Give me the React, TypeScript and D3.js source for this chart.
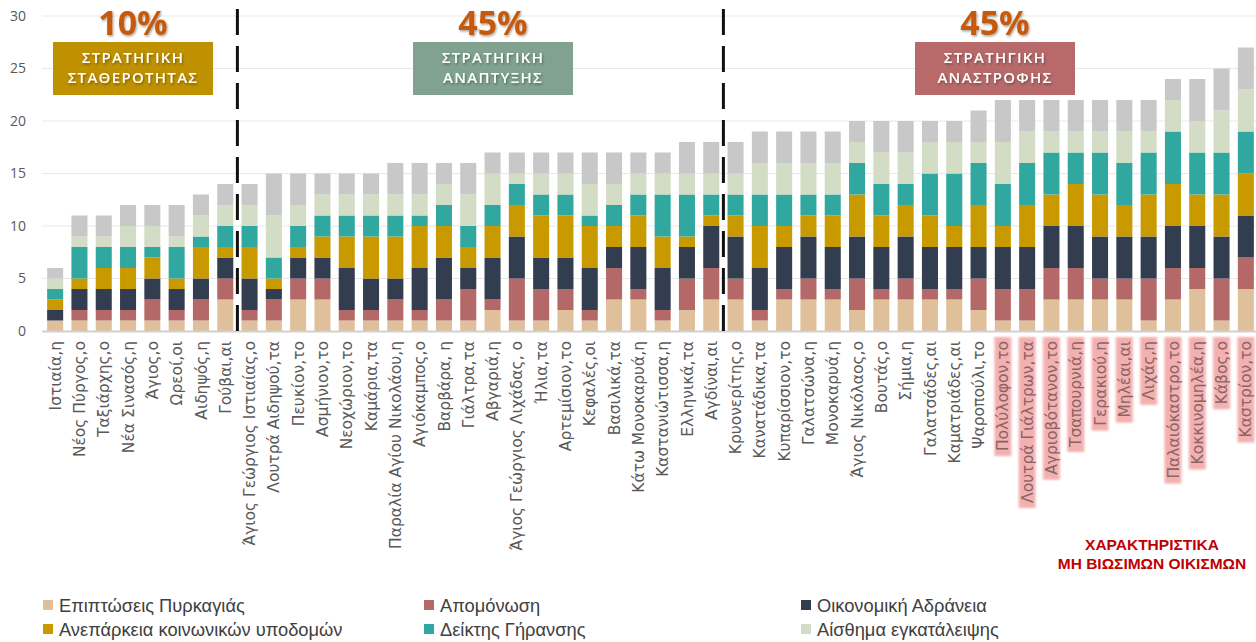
import * as d3 from "d3";
import { useEffect, useRef } from "react";

// οικισμοί (άξονας x)
const villages = [
  "Ιστιαία,η", "Νέος Πύργος,ο", "Ταξιάρχης,ο", "Νέα Σινασός,η", "Άγιος,ο",
  "Ωρεοί,οι", "Αιδηψός,η", "Γούβαι,αι", "Άγιος Γεώργιος Ιστιαίας,ο", "Λουτρά Αιδηψού,τα",
  "Πευκίον,το", "Ασμήνιον,το", "Νεοχώριον,το", "Καμάρια,τα", "Παραλία Αγίου Νικολάου,η",
  "Αγιόκαμπος,ο", "Βαρβάρα, η", "Γιάλτρα,τα", "Αβγαριά,η", "Άγιος Γεώργιος Λιχάδας, ο",
  "Ήλια,τα", "Αρτεμίσιον,το", "Κεφαλές,οι", "Βασιλικά,τα", "Κάτω Μονοκαρυά,η",
  "Καστανιώτισσα,η", "Ελληνικά,τα", "Αγδίναι,αι", "Κρυονερίτης,ο", "Κανατάδικα,τα",
  "Κυπαρίσσιον,το", "Γαλατσώνα,η", "Μονοκαρυά,η", "Άγιος Νικόλαος,ο", "Βουτάς,ο",
  "Σήμια,η", "Γαλατσάδες,αι", "Καματριάδες,αι", "Ψαροπούλι,το", "Πολύλοφον,το",
  "Λουτρά Γιάλτρων,τα", "Αγριοβότανον,το", "Τσαπουρνιά,η", "Γερακιού,η", "Μηλέαι,αι",
  "Λιχάς,η", "Παλαιόκαστρο,το", "Κοκκινομηλέα,η", "Κάβος,ο", "Καστρίον,το",
];

const fire = [1,1,1,1,1,1,1,3,1,1,3,3,1,1,1,1,1,1,2,1,1,2,1,3,3,1,2,3,3,1,3,3,3,2,3,3,3,3,2,1,1,3,3,3,3,1,3,4,1,4];
const isolation = [0,1,1,1,2,1,2,2,1,2,2,2,1,1,2,1,2,3,1,4,3,2,1,3,1,1,3,3,2,1,1,2,1,3,1,2,1,1,3,3,3,3,3,2,2,4,3,2,4,3];
const economy = [1,2,2,2,2,2,2,2,3,1,2,2,4,3,2,4,4,2,4,4,3,3,4,2,4,4,3,4,4,4,4,4,4,4,4,4,4,4,3,4,4,4,4,4,4,4,4,4,4,4];
const infra = [1,1,2,2,2,1,3,1,3,1,1,2,3,4,4,4,3,2,3,3,4,4,4,2,3,3,1,1,2,4,2,2,3,4,3,3,3,2,4,2,4,3,4,4,3,4,4,3,4,4];
const ageing = [1,3,2,2,1,3,1,2,2,2,2,2,2,2,2,1,2,2,2,2,2,2,1,2,2,4,4,2,2,3,3,2,2,3,3,2,4,5,4,4,4,4,3,4,4,4,5,4,4,4];
const abandon = [1,1,1,2,2,1,2,2,2,4,2,2,2,2,2,2,2,3,3,1,2,2,3,2,2,2,2,2,2,3,3,3,3,2,3,3,3,3,2,4,3,2,2,2,3,2,3,3,4,4];
const other = [1,2,2,2,2,3,2,2,2,4,3,2,2,2,3,3,2,3,2,2,2,2,3,3,2,2,3,3,3,3,3,3,3,2,3,3,2,2,3,4,3,3,3,3,3,3,2,4,4,4];

const seriesNames = [
  "Επιπτώσεις Πυρκαγιάς", "Απομόνωση", "Οικονομική Αδράνεια",
  "Ανεπάρκεια κοινωνικών υποδομών", "Δείκτης Γήρανσης", "Αίσθημα εγκατάλειψης", "Λοιπά",
];
const seriesColors = ["#e0c09a", "#b56868", "#333d50", "#c99a00", "#31a89f", "#d3dcc4", "#c8c8c8"];
const yTicks = [0, 5, 10, 15, 20, 25, 30];

// ομάδες στρατηγικής: ποσοστό, τίτλος, χρώμα, κέντρο πλαισίου
const groupPct = ["10%", "45%", "45%"];
const groupTitle = [["ΣΤΡΑΤΗΓΙΚΗ", "ΣΤΑΘΕΡΟΤΗΤΑΣ"], ["ΣΤΡΑΤΗΓΙΚΗ", "ΑΝΑΠΤΥΞΗΣ"], ["ΣΤΡΑΤΗΓΙΚΗ", "ΑΝΑΣΤΡΟΦΗΣ"]];
const groupColor = ["#bf9000", "#80a28e", "#b86a6a"];
const groupCenter = [133, 493, 995];
const groupBreaks = [8, 28]; // μετά από ποιο δείκτη πάει η διακεκομμένη
const firstNonViable = 39;

export default function App() {
  const ref = useRef<SVGSVGElement>(null);

  useEffect(() => {
    document.body.style.margin = "0";
    const W = 1256;
    const H = 642;
    const svg = d3.select(ref.current).attr("width", W).attr("height", H);
    svg.selectAll("*").remove();

    const defs = svg.append("defs");
    defs.append("filter").attr("id", "shadow")
      .append("feDropShadow").attr("dx", 1).attr("dy", 1.5).attr("stdDeviation", 1)
      .attr("flood-color", "#000").attr("flood-opacity", 0.35);
    defs.append("filter").attr("id", "soft").attr("x", "-30%").attr("y", "-10%").attr("width", "160%").attr("height", "120%")
      .append("feGaussianBlur").attr("stdDeviation", 1.2);

    const x = d3.scaleBand<string>().domain(villages).range([43, 1258]).paddingInner(0.34).paddingOuter(0.17);
    const y = d3.scaleLinear().domain([0, 30]).range([331, 16]);

    const font = "'Open Sans', sans-serif";
    const labelFont = "'DejaVu Sans', sans-serif";
    const legendFont = "'Liberation Sans', Arial, sans-serif";

    // πλέγμα
    svg.append("g").selectAll("line").data(yTicks.slice(1)).join("line")
      .attr("x1", 42).attr("x2", 1256).attr("y1", (d) => y(d)).attr("y2", (d) => y(d))
      .attr("stroke", "#e8e8e8").attr("stroke-width", 1);

    svg.append("g").selectAll("text").data(yTicks).join("text")
      .attr("x", 26).attr("y", (d) => y(d)).attr("dy", "0.35em")
      .attr("text-anchor", "end").attr("font-family", font).attr("font-size", 14)
      .attr("fill", "#595959").text((d) => d);

    const rows = villages.map((v, i) => ({
      name: v, s0: fire[i], s1: isolation[i], s2: economy[i], s3: infra[i],
      s4: ageing[i], s5: abandon[i], s6: other[i],
    }));
    const keys = ["s0", "s1", "s2", "s3", "s4", "s5", "s6"];
    const stack = d3.stack<any>().keys(keys)(rows);

    svg.append("g").selectAll("g").data(stack).join("g")
      .attr("fill", (_, i) => seriesColors[i])
      .selectAll("rect").data((d) => d).join("rect")
      .attr("x", (d) => x(d.data.name)!)
      .attr("width", x.bandwidth())
      .attr("y", (d) => y(d[1]))
      .attr("height", (d) => y(d[0]) - y(d[1]));

    svg.append("line").attr("x1", 42).attr("x2", 1256).attr("y1", y(0) + 0.5).attr("y2", y(0) + 0.5)
      .attr("stroke", "#d0d0d0").attr("stroke-width", 2);

    // ετικέτες οικισμών
    const lab = svg.append("g");
    villages.forEach((v, i) => {
      const cx = x(v)! + x.bandwidth() / 2;
      const hl = i >= firstNonViable;
      const g = lab.append("g").attr("transform", `translate(${cx},341) rotate(-90)`);
      const bg = hl ? g.append("rect") : null;
      const t = g.append("text").attr("text-anchor", "end").attr("dy", "0.36em")
        .attr("font-family", labelFont).attr("font-size", 15.5)
        .attr("fill", hl ? "#8a6464" : "#595959").text(v);
      if (bg) {
        const len = (t.node() as SVGTextElement).getComputedTextLength();
        bg.attr("x", -len - 5).attr("y", -8.5).attr("width", len + 9).attr("height", 17)
          .attr("fill", "#f2a3a3").attr("opacity", 0.85).attr("filter", "url(#soft)");
      }
    });

    // διακεκομμένες γραμμές
    groupBreaks.forEach((b) => {
      const xl = (x(villages[b - 1])! + x.bandwidth() + x(villages[b])!) / 2;
      svg.append("line").attr("x1", xl).attr("x2", xl).attr("y1", 9).attr("y2", y(0))
        .attr("stroke", "#111").attr("stroke-width", 3).attr("stroke-dasharray", "26 11");
    });

    // πλαίσια στρατηγικών
    groupPct.forEach((p, i) => {
      const cx = groupCenter[i];
      svg.append("text").attr("x", cx).attr("y", 35).attr("text-anchor", "middle")
        .attr("font-family", font).attr("font-weight", 700).attr("font-size", 34)
        .attr("fill", "#c55a11").attr("filter", "url(#shadow)").text(p);
      svg.append("rect").attr("x", cx - 80).attr("y", 42).attr("width", 160).attr("height", 53)
        .attr("fill", groupColor[i]);
      groupTitle[i].forEach((line, j) => {
        svg.append("text").attr("x", cx).attr("y", 58 + j * 20).attr("dy", "0.36em")
          .attr("text-anchor", "middle").attr("font-family", font).attr("font-weight", 600)
          .attr("font-size", 15).attr("letter-spacing", 1.3).attr("fill", "#fff")
          .attr("filter", "url(#shadow)").text(line);
      });
    });

    // σημείωση μη βιώσιμων
    ["ΧΑΡΑΚΤΗΡΙΣΤΙΚΑ", "ΜΗ ΒΙΩΣΙΜΩΝ ΟΙΚΙΣΜΩΝ"].forEach((line, j) => {
      svg.append("text").attr("x", 1152).attr("y", 544 + j * 19).attr("dy", "0.36em")
        .attr("text-anchor", "middle").attr("font-family", legendFont)
        .attr("font-weight", 700).attr("font-size", 15.5).attr("fill", "#c00000").text(line);
    });

    // υπόμνημα
    const legX = [43, 424, 801];
    const leg = svg.append("g");
    seriesNames.slice(0, 6).forEach((name, i) => {
      const lx = legX[i % 3];
      const ly = i < 3 ? 605 : 629;
      leg.append("rect").attr("x", lx).attr("y", ly - 5).attr("width", 10).attr("height", 10)
        .attr("fill", seriesColors[i]);
      leg.append("text").attr("x", lx + 16).attr("y", ly).attr("dy", "0.36em")
        .attr("font-family", legendFont).attr("font-size", 18.3)
        .attr("fill", "#404040").text(name);
    });
  }, []);

  return <svg ref={ref} style={{ display: "block" }}></svg>;
}
